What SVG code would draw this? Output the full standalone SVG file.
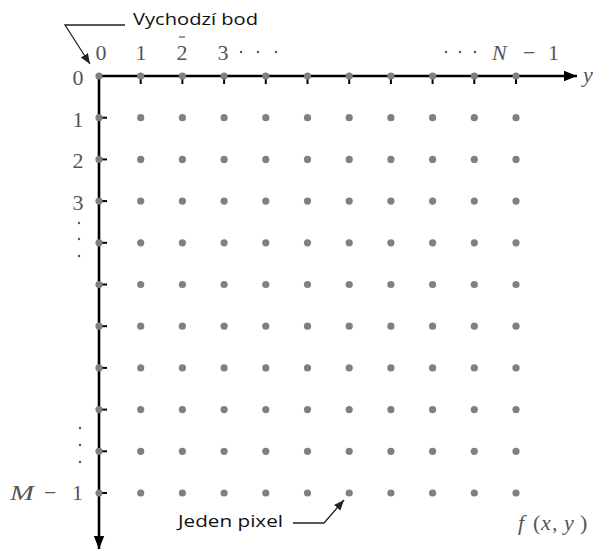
<svg xmlns="http://www.w3.org/2000/svg" width="596" height="552" viewBox="0 0 596 552">
<style>
.num{font-family:"Liberation Serif",serif;font-size:22px;fill:#555}
.it{font-family:"Liberation Serif",serif;font-size:22px;font-style:italic;fill:#555}
.lab{font-family:"Open Sans","Liberation Sans",sans-serif;font-size:17px;fill:#111}
.axis{stroke:#000;stroke-width:2.6;fill:none}
.tick{stroke:#000;stroke-width:2}
.lead{stroke:#222;stroke-width:1.3;fill:none}
.dot{fill:#808080}
.sd{fill:#555}
</style>
<defs>
<marker id="ah" viewBox="0 0 10 10" refX="10" refY="5" markerWidth="5" markerHeight="5" orient="auto" markerUnits="strokeWidth"><path d="M0,1 L10,5 L0,9 z" fill="#000"/></marker>
<marker id="lh" viewBox="0 0 10 10" refX="10" refY="5" markerWidth="8" markerHeight="8" orient="auto" markerUnits="strokeWidth"><path d="M0,1 L10,5 L0,9 z" fill="#222"/></marker>
<circle id="d" r="3.6" class="dot"/>
<g id="row">
<use href="#d" x="0"/><use href="#d" x="41.7"/><use href="#d" x="83.4"/><use href="#d" x="125.1"/><use href="#d" x="166.8"/><use href="#d" x="208.5"/><use href="#d" x="250.2"/><use href="#d" x="291.9"/><use href="#d" x="333.6"/><use href="#d" x="375.3"/><use href="#d" x="417"/>
</g>
</defs>
<g id="axes">
<line class="axis" x1="98" y1="76" x2="577" y2="76" marker-end="url(#ah)"/>
<line class="axis" x1="99" y1="75" x2="99" y2="549" marker-end="url(#ah)"/>
<g class="tick">
<line x1="140.7" y1="76" x2="140.7" y2="84"/><line x1="182.4" y1="76" x2="182.4" y2="84"/><line x1="224.1" y1="76" x2="224.1" y2="84"/><line x1="265.8" y1="76" x2="265.8" y2="84"/><line x1="307.5" y1="76" x2="307.5" y2="84"/><line x1="349.2" y1="76" x2="349.2" y2="84"/><line x1="390.9" y1="76" x2="390.9" y2="84"/><line x1="432.6" y1="76" x2="432.6" y2="84"/><line x1="474.3" y1="76" x2="474.3" y2="84"/><line x1="516" y1="76" x2="516" y2="84"/>
<line x1="99" y1="117.7" x2="107" y2="117.7"/><line x1="99" y1="159.4" x2="107" y2="159.4"/><line x1="99" y1="201.1" x2="107" y2="201.1"/><line x1="99" y1="242.8" x2="107" y2="242.8"/><line x1="99" y1="284.5" x2="107" y2="284.5"/><line x1="99" y1="326.2" x2="107" y2="326.2"/><line x1="99" y1="367.9" x2="107" y2="367.9"/><line x1="99" y1="409.6" x2="107" y2="409.6"/><line x1="99" y1="451.3" x2="107" y2="451.3"/><line x1="99" y1="493" x2="107" y2="493"/>
</g>
</g>
<g id="grid">
<use href="#row" x="99" y="76"/><use href="#row" x="99" y="117.7"/><use href="#row" x="99" y="159.4"/><use href="#row" x="99" y="201.1"/><use href="#row" x="99" y="242.8"/><use href="#row" x="99" y="284.5"/><use href="#row" x="99" y="326.2"/><use href="#row" x="99" y="367.9"/><use href="#row" x="99" y="409.6"/><use href="#row" x="99" y="451.3"/><use href="#row" x="99" y="493"/>
</g>
<g id="col-labels">
<text class="num" x="101" y="60" text-anchor="middle">0</text>
<text class="num" x="141" y="60" text-anchor="middle">1</text>
<text class="num" x="182" y="60" text-anchor="middle">2</text>
<line x1="179" y1="37" x2="185" y2="37" stroke="#555" stroke-width="1.2"/>
<text class="num" x="223" y="60" text-anchor="middle">3</text>
<circle class="sd" cx="241" cy="52" r="1.2"/><circle class="sd" cx="258" cy="52" r="1.2"/><circle class="sd" cx="276" cy="52" r="1.2"/>
<circle class="sd" cx="446" cy="52" r="1.2"/><circle class="sd" cx="460" cy="52" r="1.2"/><circle class="sd" cx="475" cy="52" r="1.2"/>
<text class="it" x="492" y="60">N</text>
<text class="num" x="523" y="60">−</text>
<text class="num" x="548" y="60">1</text>
<text class="it" x="583" y="82">y</text>
</g>
<g id="row-labels">
<text class="num" x="78" y="85" text-anchor="middle">0</text>
<text class="num" x="78" y="127" text-anchor="middle">1</text>
<text class="num" x="78" y="168" text-anchor="middle">2</text>
<text class="num" x="78" y="210" text-anchor="middle">3</text>
<circle class="sd" cx="79" cy="223" r="1.2"/><circle class="sd" cx="79" cy="239" r="1.2"/><circle class="sd" cx="79" cy="256" r="1.2"/>
<circle class="sd" cx="80" cy="428" r="1.2"/><circle class="sd" cx="80" cy="445" r="1.2"/><circle class="sd" cx="80" cy="462" r="1.2"/>
<text class="it" x="10" y="500" textLength="24" lengthAdjust="spacingAndGlyphs">M</text>
<text class="num" x="44" y="500">−</text>
<text class="num" x="72" y="500">1</text>
</g>
<g id="func-label">
<text class="it" y="530"><tspan x="518">f</tspan><tspan x="533" font-style="normal">(</tspan><tspan x="541">x</tspan><tspan x="552" font-style="normal">,</tspan><tspan x="564">y</tspan><tspan x="580" font-style="normal">)</tspan></text>
</g>
<g id="origin-label">
<text class="lab" x="133" y="25" textLength="125" lengthAdjust="spacingAndGlyphs">Vychodzí bod</text>
</g>
<g id="pixel-label">
<text class="lab" x="178" y="527" textLength="105" lengthAdjust="spacingAndGlyphs">Jeden pixel</text>
</g>
<g id="connectors">
<polyline class="lead" points="125,25 65,25 90,64" marker-end="url(#lh)"/>
<polyline class="lead" points="293,523 324,523 344,500" marker-end="url(#lh)"/>
</g>
</svg>
